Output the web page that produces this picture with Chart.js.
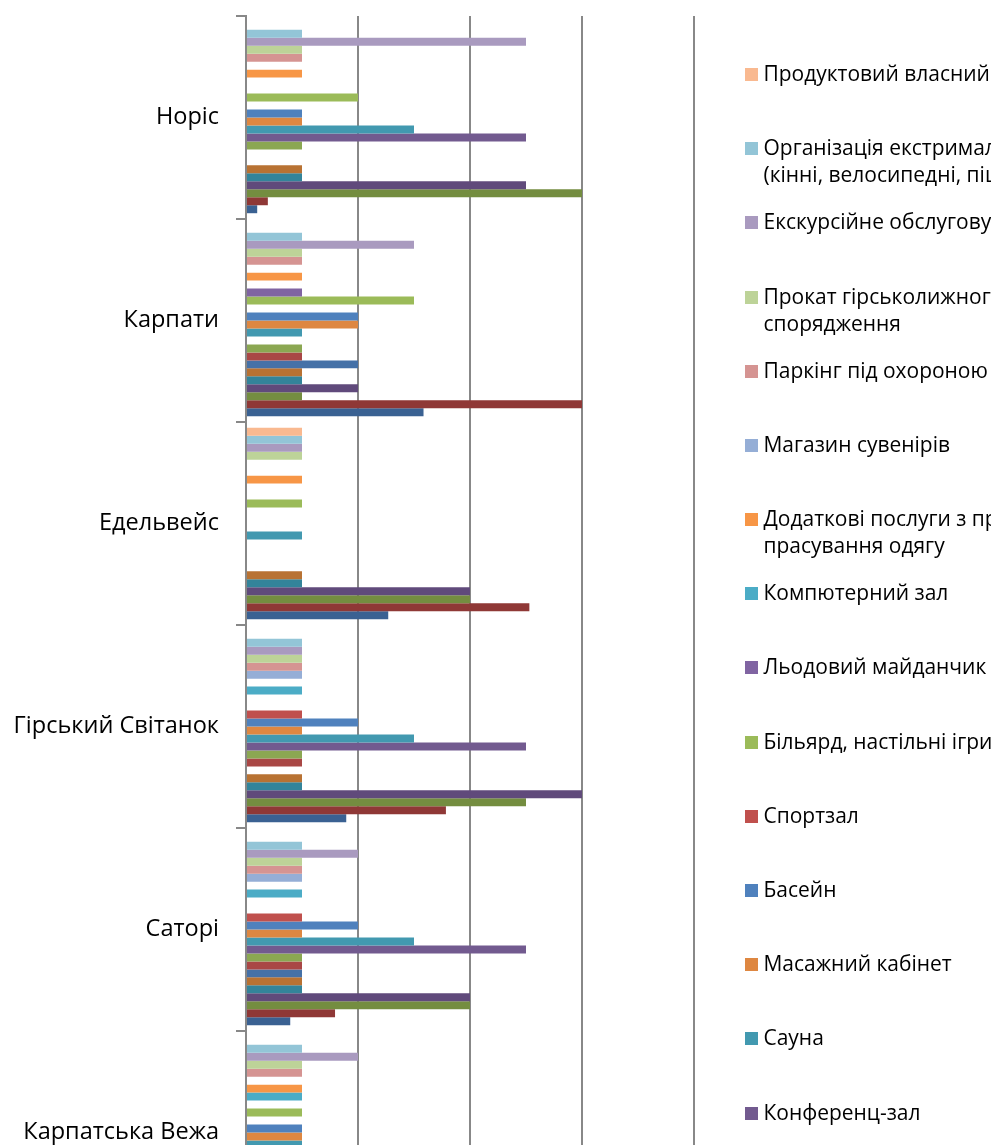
<!DOCTYPE html>
<html>
<head>
<meta charset="utf-8">
<script src="https://cdn.jsdelivr.net/npm/chart.js@4.4.1/dist/chart.umd.min.js"></script>
<style>
  html, body { margin: 0; padding: 0; background: #fff; overflow: hidden; width: 991px; height: 1145px; }
  #wrap { position: absolute; left: 0; top: 0; width: 1200px; height: 1300px; }
</style>
</head>
<body>
<div id="wrap"><canvas id="c" width="1200" height="1300"></canvas></div>
<script>
// ---------------- DATA ----------------
const categories = ['Норіс', 'Карпати', 'Едельвейс', 'Гірський Світанок', 'Саторі', 'Карпатська Вежа'];

// series, listed top-to-bottom as they appear in each group and in the legend
const seriesNames = [
  'Продуктовий власний магазин',
  'Організація екстримальних турів\n(кінні, велосипедні, піші)',
  'Екскурсійне обслуговування',
  'Прокат гірськолижного\nспорядження',
  'Паркінг під охороною',
  'Магазин сувенірів',
  'Додаткові послуги з прання та\nпрасування одягу',
  'Компютерний зал',
  'Льодовий майданчик',
  'Більярд, настільні ігри',
  'Спортзал',
  'Басейн',
  'Масажний кабінет',
  'Сауна',
  'Конференц-зал',
  'Дитяча кімната',
  'Бар',
  'Ресторан',
  'Кафе',
  'Трансфер',
  'Інтернет (Wi-Fi)',
  'Кількість номерів',
  'Категорія',
  'Рейтинг'
];

// values per hotel, same order as seriesNames
const noris          = [0, 1, 5, 1, 1, 0, 1, 0, 0, 2, 0, 1, 1, 3, 5, 1, 0, 0, 1, 1, 5, 6, 0.39, 0.2];
const karpaty        = [0, 1, 3, 1, 1, 0, 1, 0, 1, 3, 0, 2, 2, 1, 0, 1, 1, 2, 1, 1, 2, 1, 6, 3.17];
const edelweiss      = [1, 1, 1, 1, 0, 0, 1, 0, 0, 1, 0, 0, 0, 1, 0, 0, 0, 0, 1, 1, 4, 4, 5.06, 2.54];
const hirskyiSvitanok= [0, 1, 1, 1, 1, 1, 0, 1, 0, 0, 1, 2, 1, 3, 5, 1, 1, 0, 1, 1, 6, 5, 3.57, 1.79];
const satori         = [0, 1, 2, 1, 1, 1, 0, 1, 0, 0, 1, 2, 1, 3, 5, 1, 1, 1, 1, 1, 4, 4, 1.59, 0.79];
const karpatskaVezha = [0, 1, 2, 1, 1, 0, 1, 1, 0, 1, 0, 1, 1, 1, 4, 1, 1, 1, 1, 1, 3, 3, 1.2, 0.6];
const hotels = [noris, karpaty, edelweiss, hirskyiSvitanok, satori, karpatskaVezha];

const xTicks = [0, 2, 4, 6, 8];

// ---------------- STYLE ----------------
const seriesColors = [
  '#F9B990', '#93C5D7', '#A99ABF', '#BDD398', '#D59492', '#95AED6',
  '#F79646', '#4BACC6', '#8064A2', '#9BBB59', '#C0504D', '#4F81BD',
  '#DE8741', '#4299B0', '#725A8F', '#8BA752', '#A94745', '#4571A7',
  '#B87233', '#33849A', '#604A7B', '#748D40', '#8F3836', '#3A6192'
];
const FONT = '"Open Sans", "Noto Sans", "DejaVu Sans", sans-serif';
const GRID = '#888888';

function fitSize(text, target) {
  const cv = document.createElement('canvas').getContext('2d');
  cv.font = '100px ' + FONT;
  return 100 * target / cv.measureText(text).width;
}

function build() {
  const catSize = fitSize('Гірський Світанок', 205.5);
  const legSize = fitSize('Масажний кабінет', 188.3);

  const datasets = seriesNames.map((name, i) => ({
    label: name,
    data: hotels.map(h => h[i]),
    backgroundColor: seriesColors[i],
    borderWidth: 0,
    barPercentage: 1,
    categoryPercentage: 0.943
  }));

  const sideLegend = {
    id: 'sideLegend',
    afterDraw(chart) {
      const ctx = chart.ctx;
      ctx.save();
      ctx.font = legSize + 'px ' + FONT;
      ctx.textAlign = 'left';
      ctx.textBaseline = 'alphabetic';
      const x0 = 745, top = 74.5, step = 74.18, box = 13;
      chart.data.datasets.forEach((ds, i) => {
        const cy = top + i * step;
        ctx.fillStyle = ds.backgroundColor;
        ctx.fillRect(x0, Math.round(cy - box / 2), box, box);
        ctx.fillStyle = '#000';
        ds.label.split('\n').forEach((t, k) => ctx.fillText(t, x0 + 18.5, cy + 6.5 + k * 27));
      });
      ctx.restore();
    }
  };

  const AREA_TOP = 16, CAT_H = 203;

  new Chart(document.getElementById('c'), {
    type: 'bar',
    data: { labels: categories, datasets },
    plugins: [sideLegend],
    options: {
      indexAxis: 'y',
      responsive: false,
      animation: false,
      devicePixelRatio: 1,
      layout: { padding: { top: AREA_TOP, left: 0, right: 1200 - 694, bottom: 0 } },
      plugins: { legend: { display: false }, tooltip: { enabled: false } },
      scales: {
        x: {
          min: xTicks[0], max: xTicks[xTicks.length - 1],
          afterBuildTicks: s => { s.ticks = xTicks.map(v => ({ value: v })); },
          grid: { color: GRID, lineWidth: 2, drawTicks: false },
          border: { display: false },
          ticks: { display: false },
          afterFit: s => { s.height = 1300 - AREA_TOP - categories.length * CAT_H; s.paddingLeft = 0; s.paddingRight = 0; }
        },
        y: {
          grid: { display: true, drawOnChartArea: false, drawTicks: true, tickLength: 10, offset: true, color: GRID, lineWidth: 2 },
          border: { display: true, color: GRID, width: 2 },
          ticks: { padding: 17, color: '#000', font: { family: FONT, size: catSize } },
          afterFit: s => { s.width = 246; s.paddingTop = 0; s.paddingBottom = 0; }
        }
      }
    }
  });
}

(document.fonts && document.fonts.load ? document.fonts.load('100px "Open Sans"') : Promise.resolve())
  .then(build, build);
</script>
</body>
</html>
